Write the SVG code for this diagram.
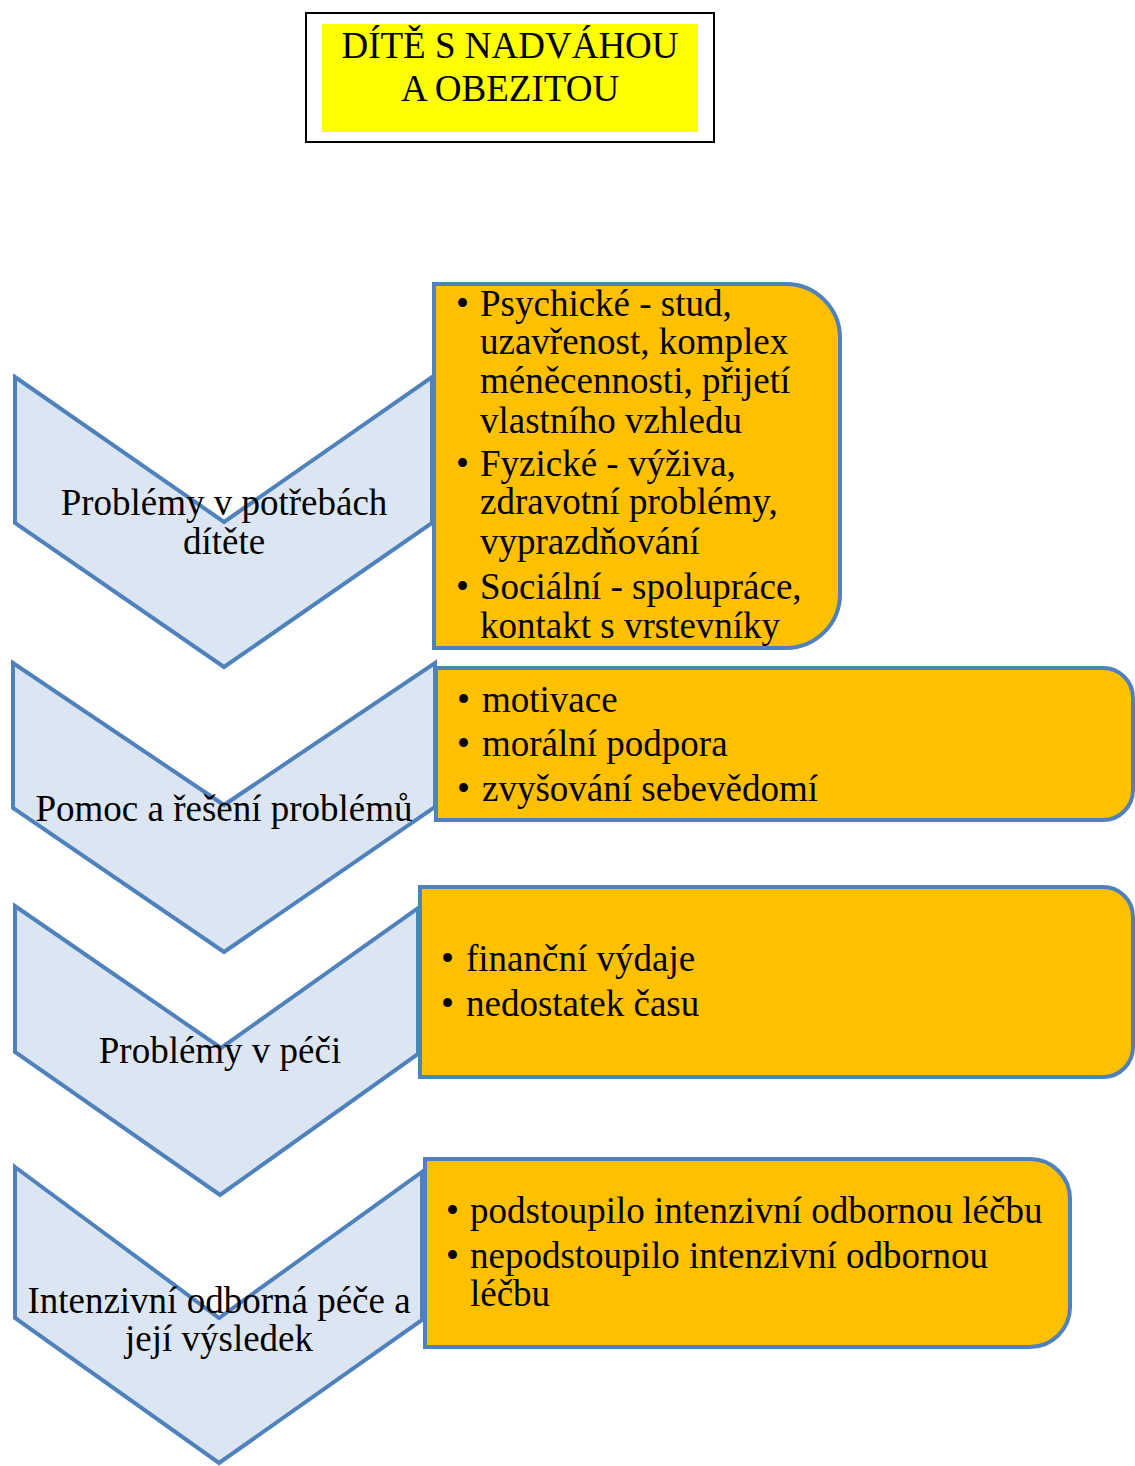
<svg xmlns="http://www.w3.org/2000/svg" width="1135" height="1466" viewBox="0 0 1135 1466">
<style>
text{font-family:"Liberation Serif","Times New Roman",serif;font-size:37px;fill:#000}
.chev{fill:#DCE6F2;stroke:#4F81BD;stroke-width:4;stroke-linejoin:miter}
.box{fill:#FFC000;stroke:#4F81BD;stroke-width:4}
.c{text-anchor:middle}
</style>
<rect width="1135" height="1466" fill="#fff"/>
<g id="title">
<rect x="306" y="13" width="408" height="129" fill="#fff" stroke="#000" stroke-width="2"/>
<rect x="322" y="24" width="376" height="108" fill="#FFFF00"/>
<text class="c" x="510" y="58">DÍTĚ S NADVÁHOU</text>
<text class="c" x="510" y="101">A OBEZITOU</text>
</g>
<g id="connectors"/>
<g id="step1">
<polygon class="chev" points="15,377 224,522 432,377 432,523 224,667 15,523"/>
<text class="c" x="224" y="515">Problémy v potřebách</text>
<text class="c" x="224" y="554">dítěte</text>
</g>
<g id="detail1">
<path class="box" d="M434,284 H786 A54,54 0 0 1 840,338 V594 A54,54 0 0 1 786,648 H434 Z"/>
<text x="456" y="316">•</text><text x="480" y="316">Psychické - stud,</text>
<text x="480" y="354">uzavřenost, komplex</text>
<text x="480" y="393">méněcennosti, přijetí</text>
<text x="480" y="433">vlastního vzhledu</text>
<text x="456" y="476">•</text><text x="480" y="476">Fyzické - výživa,</text>
<text x="480" y="514">zdravotní problémy,</text>
<text x="480" y="554">vyprazdňování</text>
<text x="456" y="599">•</text><text x="480" y="599">Sociální - spolupráce,</text>
<text x="480" y="638">kontakt s vrstevníky</text>
</g>
<g id="step2">
<polygon class="chev" points="13,663 224,805 435,663 435,807 224,952 13,808"/>
<text class="c" x="224" y="821">Pomoc a řešení problémů</text>
</g>
<g id="detail2">
<path class="box" d="M436,668 H1103 A30,30 0 0 1 1133,698 V790 A30,30 0 0 1 1103,820 H436 Z"/>
<text x="457" y="712">•</text><text x="482" y="712">motivace</text>
<text x="457" y="756">•</text><text x="482" y="756">morální podpora</text>
<text x="457" y="801">•</text><text x="482" y="801">zvyšování sebevědomí</text>
</g>
<g id="step3">
<polygon class="chev" points="15,906 221,1048 418,908 418,1054 220,1195 15,1052"/>
<text class="c" x="220" y="1063">Problémy v péči</text>
</g>
<g id="detail3">
<path class="box" d="M420,887 H1103 A30,30 0 0 1 1133,917 V1047 A30,30 0 0 1 1103,1077 H420 Z"/>
<text x="441" y="971">•</text><text x="466" y="971">finanční výdaje</text>
<text x="441" y="1016">•</text><text x="466" y="1016">nedostatek času</text>
</g>
<g id="step4">
<polygon class="chev" points="15,1167 219,1318 422,1172 422,1320 219,1463 15,1318"/>
<text class="c" x="219" y="1313">Intenzivní odborná péče a</text>
<text class="c" x="219" y="1351">její výsledek</text>
</g>
<g id="detail4">
<path class="box" d="M425,1159 H1030 A40,40 0 0 1 1070,1199 V1307 A40,40 0 0 1 1030,1347 H425 Z"/>
<text x="446" y="1223">•</text><text x="470" y="1223">podstoupilo intenzivní odbornou léčbu</text>
<text x="446" y="1268">•</text><text x="470" y="1268">nepodstoupilo intenzivní odbornou</text>
<text x="470" y="1306">léčbu</text>
</g>
</svg>
